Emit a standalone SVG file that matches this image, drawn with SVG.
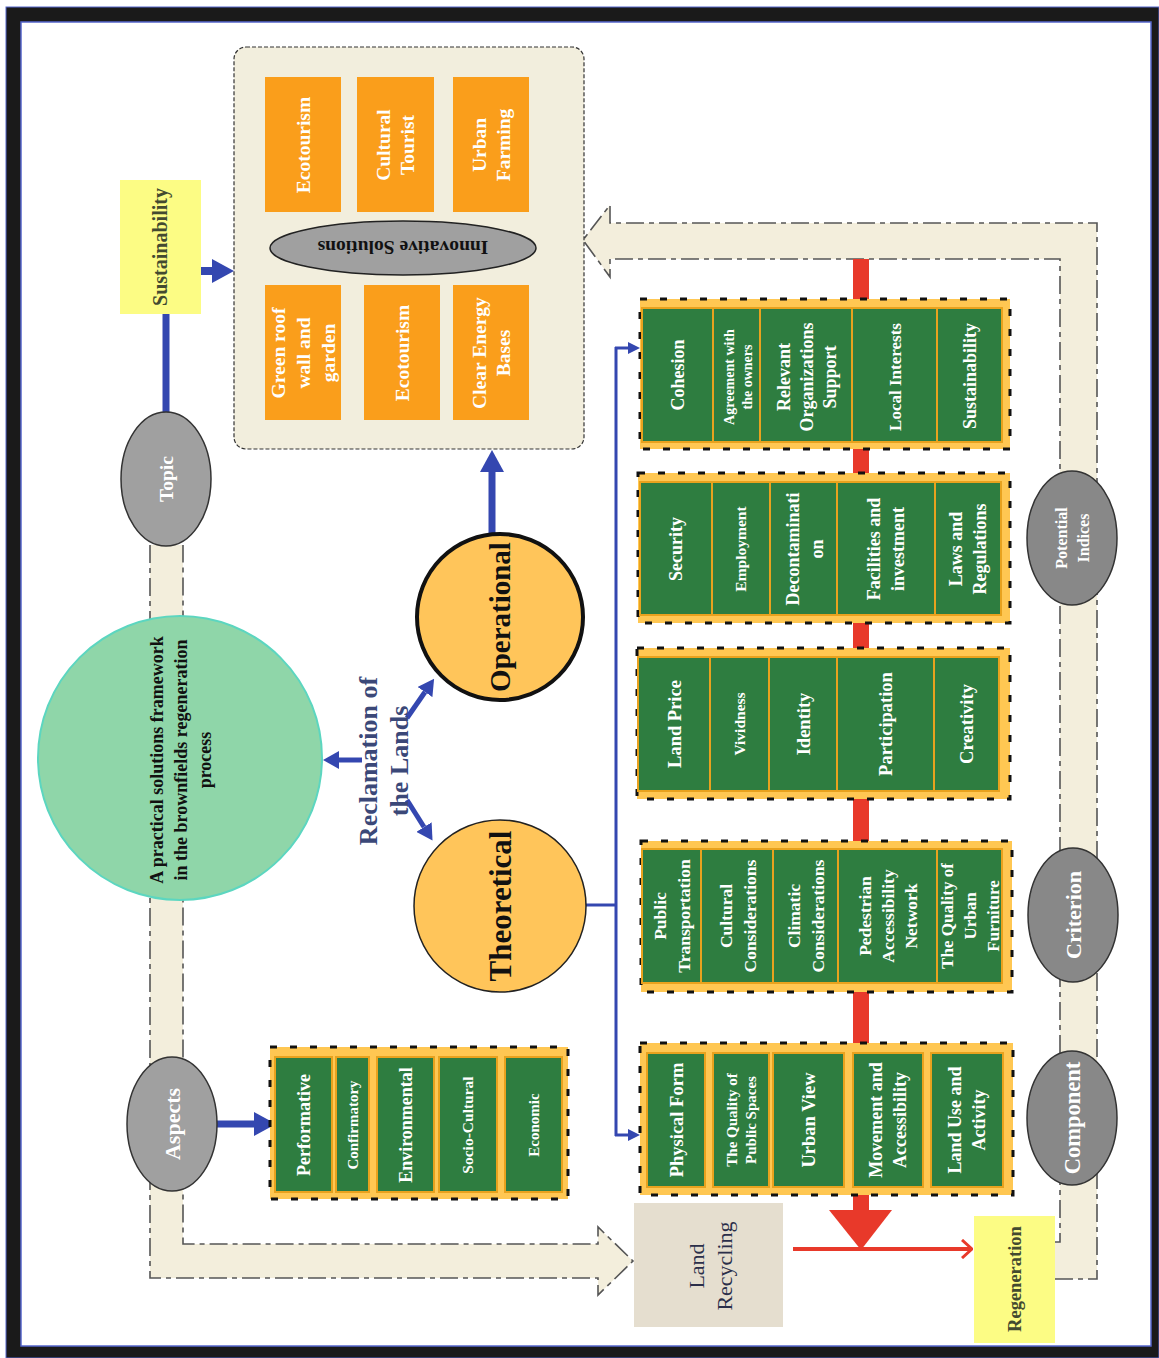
<svg xmlns="http://www.w3.org/2000/svg" width="1159" height="1358" viewBox="0 0 1159 1358">
<defs>
<style>
.f{font-family:"Liberation Serif","Times New Roman",serif;font-weight:bold;text-anchor:middle}
.w{fill:#ffffff}
.k{fill:#111111}
.row{fill:#FFC752;stroke:#111;stroke-width:3;stroke-dasharray:7 13}
.cell{fill:#2E7D40;stroke:#E8A21E;stroke-width:2}
.org{fill:#FA9E1B}
.band{fill:#F3EEDC;stroke:#555;stroke-width:1.6;stroke-dasharray:18 5 5 5}
.oval1{fill:#A0A0A0;stroke:#333;stroke-width:1.5}
.oval2{fill:#888888;stroke:#333;stroke-width:1.5}
.blue{stroke:#3447B0;fill:none}
</style>
<marker id="hB" markerUnits="userSpaceOnUse" viewBox="0 0 22 24" markerWidth="22" markerHeight="24" refX="0" refY="12" orient="auto"><path d="M0,0 L22,12 L0,24 z" fill="#3447B0"/></marker>
<marker id="hM" markerUnits="userSpaceOnUse" viewBox="0 0 16 18" markerWidth="16" markerHeight="18" refX="0" refY="9" orient="auto"><path d="M0,0 L16,9 L0,18 z" fill="#3447B0"/></marker>
<marker id="hS" markerUnits="userSpaceOnUse" viewBox="0 0 12 12" markerWidth="12" markerHeight="12" refX="0" refY="6" orient="auto"><path d="M0,0 L12,6 L0,12 z" fill="#3447B0"/></marker>
<marker id="hR" markerUnits="userSpaceOnUse" viewBox="0 0 12 20" markerWidth="12" markerHeight="20" refX="11" refY="10" orient="auto"><path d="M1,1 L11,10 L1,19" fill="none" stroke="#E8392A" stroke-width="3"/></marker>
</defs>

<!-- frame -->
<rect x="0" y="0" width="1159" height="1358" fill="#ffffff"/>
<rect x="6" y="7" width="1153" height="1351" fill="#1a1a1a" stroke="#5566cc" stroke-width="1"/>
<rect x="21" y="22" width="1130" height="1324" fill="#ffffff" stroke="#5566cc" stroke-width="1.5"/>

<!-- loop bands -->
<g id="bands">
<path class="band" d="M150,545 L150,1278 L598,1278 L598,1295 L633,1261 L598,1227 L598,1244 L183,1244 L183,545"/>
<path class="band" d="M1055,1279 L1097,1279 L1097,223 L610,223 L610,205 L583,240 L610,277 L610,259 L1060,259 L1060,1242 L1055,1242"/>
</g>

<!-- connectors -->
<g id="connectors">
<rect x="853" y="259" width="16" height="953" fill="#E8392A"/>
<polygon points="829,1210 892,1210 861,1250" fill="#E8392A"/>
<line x1="793" y1="1249" x2="972" y2="1249" stroke="#E8392A" stroke-width="4" marker-end="url(#hR)"/>
<line class="blue" x1="166" y1="314" x2="166" y2="413" stroke-width="7"/>
<line class="blue" x1="201" y1="271" x2="212" y2="271" stroke-width="8" marker-end="url(#hB)"/>
<line class="blue" x1="492" y1="535" x2="492" y2="472" stroke-width="7" marker-end="url(#hB)"/>
<line class="blue" x1="217" y1="1124" x2="254" y2="1124" stroke-width="7" marker-end="url(#hB)"/>
<line class="blue" x1="362" y1="760" x2="339" y2="760" stroke-width="5" marker-end="url(#hM)"/>
<line class="blue" x1="407" y1="718" x2="425" y2="692" stroke-width="5" marker-end="url(#hM)"/>
<line class="blue" x1="407" y1="800" x2="424" y2="827" stroke-width="5" marker-end="url(#hM)"/>
<polyline class="blue" points="586,905 616,905" stroke-width="3"/>
<line class="blue" x1="616" y1="347" x2="616" y2="1136" stroke-width="3"/>
<line class="blue" x1="615" y1="348" x2="628" y2="348" stroke-width="3" marker-end="url(#hS)"/>
<line class="blue" x1="615" y1="1135" x2="628" y2="1135" stroke-width="3" marker-end="url(#hS)"/>
</g>

<!-- top solutions box -->
<g id="solutions">
<rect x="234" y="47" width="350" height="402" rx="12" fill="#F2EEDD" stroke="#333" stroke-width="1.2" stroke-dasharray="4 2"/>
<rect class="org" x="265" y="77" width="76" height="135"/>
<rect class="org" x="357" y="77" width="77" height="135"/>
<rect class="org" x="453" y="77" width="76" height="135"/>
<rect class="org" x="265" y="285" width="76" height="135"/>
<rect class="org" x="364" y="285" width="76" height="135"/>
<rect class="org" x="453" y="285" width="76" height="135"/>
<text class="f w" font-size="19.5" transform="translate(303 145) rotate(-90)"><tspan x="0" dy="6.8">Ecotourism</tspan></text>
<text class="f w" font-size="19.5" transform="translate(395.5 145) rotate(-90)"><tspan x="0" dy="-5.2">Cultural</tspan><tspan x="0" dy="24">Tourist</tspan></text>
<text class="f w" font-size="19.5" transform="translate(491 145) rotate(-90)"><tspan x="0" dy="-5.2">Urban</tspan><tspan x="0" dy="24">Farming</tspan></text>
<text class="f w" font-size="19.5" transform="translate(303 353) rotate(-90)"><tspan x="0" dy="-18.2">Green roof</tspan><tspan x="0" dy="25">wall and</tspan><tspan x="0" dy="25">garden</tspan></text>
<text class="f w" font-size="19.5" transform="translate(402 353) rotate(-90)"><tspan x="0" dy="6.8">Ecotourism</tspan></text>
<text class="f w" font-size="19.5" transform="translate(491 353) rotate(-90)"><tspan x="0" dy="-5.2">Clear Energy</tspan><tspan x="0" dy="24">Bases</tspan></text>
</g>
<g id="innovative">
<ellipse cx="403" cy="248" rx="133" ry="27" fill="#A0A0A0" stroke="#222" stroke-width="1.5"/>
<text class="f k" font-size="19.5" transform="translate(403 248) rotate(180)"><tspan x="0" dy="6.8">Innovative Solutions</tspan></text>
</g>

<!-- left side nodes -->
<g id="sustainability">
<rect x="120" y="180" width="81" height="134" fill="#FCFC84"/>
<text class="f" fill="#434a30" font-size="20" transform="translate(160 247) rotate(-90)"><tspan x="0" dy="7">Sustainability</tspan></text>
</g>
<g id="topic">
<ellipse cx="166" cy="479" rx="45" ry="67" class="oval1"/>
<text class="f w" font-size="19.5" transform="translate(166 479) rotate(-90)"><tspan x="0" dy="6.8">Topic</tspan></text>
</g>
<g id="framework">
<ellipse cx="180" cy="758" rx="142" ry="142" fill="#8FD6A9" stroke="#5CD6C0" stroke-width="2"/>
<text class="f k" font-size="18" transform="translate(181 760) rotate(-90)"><tspan x="0" dy="-17.7">A practical solutions framework</tspan><tspan x="0" dy="24">in the brownfields regeneration</tspan><tspan x="0" dy="24">process</tspan></text>
</g>
<g id="reclamation">
<text class="f" fill="#3B4878" font-size="26" transform="translate(383 761) rotate(-90)"><tspan x="0" dy="-6.4">Reclamation of</tspan><tspan x="0" dy="31">the Lands</tspan></text>
</g>
<g id="operational">
<circle cx="500" cy="617" r="83" fill="#FFC55A" stroke="#111" stroke-width="4"/>
<text class="f k" font-size="29" transform="translate(500 617) rotate(-90)"><tspan x="0" dy="10">Operational</tspan></text>
</g>
<g id="theoretical">
<circle cx="500" cy="906" r="86" fill="#FFC55A" stroke="#222" stroke-width="1.5"/>
<text class="f k" font-size="31" transform="translate(500 906) rotate(-90)"><tspan x="0" dy="10.8">Theoretical</tspan></text>
</g>
<g id="aspects">
<ellipse cx="172" cy="1124" rx="45" ry="67" class="oval1"/>
<text class="f w" font-size="22" transform="translate(172 1124) rotate(-90)"><tspan x="0" dy="7.7">Aspects</tspan></text>
</g>

<!-- aspects row -->
<g id="aspects-row">
<rect class="row" x="270" y="1047" width="298" height="152"/>
<rect class="cell" x="275" y="1057" width="57" height="135"/>
<rect class="cell" x="336" y="1057" width="33" height="135"/>
<rect class="cell" x="377" y="1057" width="57" height="135"/>
<rect class="cell" x="439" y="1057" width="58" height="135"/>
<rect class="cell" x="505" y="1057" width="57" height="135"/>
<text class="f w" font-size="18" transform="translate(303.5 1125) rotate(-90)"><tspan x="0" dy="6.3">Performative</tspan></text>
<text class="f w" font-size="15" transform="translate(352.5 1125) rotate(-90)"><tspan x="0" dy="5.2">Confirmatory</tspan></text>
<text class="f w" font-size="18" transform="translate(405.5 1125) rotate(-90)"><tspan x="0" dy="6.3">Environmental</tspan></text>
<text class="f w" font-size="15.5" transform="translate(468 1125) rotate(-90)"><tspan x="0" dy="5.4">Socio-Cultural</tspan></text>
<text class="f w" font-size="15" transform="translate(533.5 1125) rotate(-90)"><tspan x="0" dy="5.2">Economic</tspan></text>
</g>

<!-- row 1: potential indices -->
<g id="row-indices">
<rect class="row" x="640" y="299" width="370" height="150"/>
<rect class="cell" x="642" y="308" width="71" height="134"/>
<rect class="cell" x="713" y="308" width="47" height="134"/>
<rect class="cell" x="760" y="308" width="92" height="134"/>
<rect class="cell" x="852" y="308" width="85" height="134"/>
<rect class="cell" x="937" y="308" width="65" height="134"/>
<text class="f w" font-size="18" transform="translate(677.5 375) rotate(-90)"><tspan x="0" dy="6.3">Cohesion</tspan></text>
<text class="f w" font-size="14" transform="translate(738 377) rotate(-90)"><tspan x="0" dy="-4">Agreement with</tspan><tspan x="0" dy="18">the owners</tspan></text>
<text class="f w" font-size="18" transform="translate(807 377) rotate(-90)"><tspan x="0" dy="-16.7">Relevant</tspan><tspan x="0" dy="23">Organizations</tspan><tspan x="0" dy="23">Support</tspan></text>
<text class="f w" font-size="17" transform="translate(894.5 377) rotate(-90)"><tspan x="0" dy="6">Local Interests</tspan></text>
<text class="f w" font-size="18" transform="translate(969.5 376) rotate(-90)"><tspan x="0" dy="6.3">Sustainability</tspan></text>
</g>

<!-- row 2 -->
<g id="row-2">
<rect class="row" x="638" y="473" width="372" height="150"/>
<rect class="cell" x="640" y="482" width="72" height="133"/>
<rect class="cell" x="712" y="482" width="58" height="133"/>
<rect class="cell" x="770" y="482" width="67" height="133"/>
<rect class="cell" x="837" y="482" width="98" height="133"/>
<rect class="cell" x="935" y="482" width="66" height="133"/>
<text class="f w" font-size="18" transform="translate(676 549) rotate(-90)"><tspan x="0" dy="6.3">Security</tspan></text>
<text class="f w" font-size="15.5" transform="translate(741 549) rotate(-90)"><tspan x="0" dy="5.4">Employment</tspan></text>
<text class="f w" font-size="18" transform="translate(805 549) rotate(-90)"><tspan x="0" dy="-5.7">Decontaminati</tspan><tspan x="0" dy="24">on</tspan></text>
<text class="f w" font-size="18" transform="translate(886 549) rotate(-90)"><tspan x="0" dy="-5.7">Facilities and</tspan><tspan x="0" dy="24">investment</tspan></text>
<text class="f w" font-size="18" transform="translate(968 549) rotate(-90)"><tspan x="0" dy="-5.7">Laws and</tspan><tspan x="0" dy="24">Regulations</tspan></text>
</g>

<!-- row 3 -->
<g id="row-3">
<rect class="row" x="637" y="648" width="373" height="151"/>
<rect class="cell" x="638" y="657" width="72" height="134"/>
<rect class="cell" x="710" y="657" width="59" height="134"/>
<rect class="cell" x="769" y="657" width="68" height="134"/>
<rect class="cell" x="837" y="657" width="97" height="134"/>
<rect class="cell" x="934" y="657" width="65" height="134"/>
<text class="f w" font-size="18.5" transform="translate(674 724) rotate(-90)"><tspan x="0" dy="6.5">Land Price</tspan></text>
<text class="f w" font-size="15.5" transform="translate(739.5 724) rotate(-90)"><tspan x="0" dy="5.4">Vividness</tspan></text>
<text class="f w" font-size="18.5" transform="translate(803 724) rotate(-90)"><tspan x="0" dy="6.5">Identity</tspan></text>
<text class="f w" font-size="18.5" transform="translate(885.5 724) rotate(-90)"><tspan x="0" dy="6.5">Participation</tspan></text>
<text class="f w" font-size="18.5" transform="translate(966.5 724) rotate(-90)"><tspan x="0" dy="6.5">Creativity</tspan></text>
</g>

<!-- row 4: criterion -->
<g id="row-criterion">
<rect class="row" x="641" y="841" width="371" height="151"/>
<rect class="cell" x="642" y="849" width="59" height="134"/>
<rect class="cell" x="701" y="849" width="72" height="134"/>
<rect class="cell" x="773" y="849" width="65" height="134"/>
<rect class="cell" x="838" y="849" width="99" height="134"/>
<rect class="cell" x="937" y="849" width="65" height="134"/>
<text class="f w" font-size="17.5" transform="translate(672 916) rotate(-90)"><tspan x="0" dy="-5.9">Public</tspan><tspan x="0" dy="24">Transportation</tspan></text>
<text class="f w" font-size="17.5" transform="translate(738 916) rotate(-90)"><tspan x="0" dy="-5.9">Cultural</tspan><tspan x="0" dy="24">Considerations</tspan></text>
<text class="f w" font-size="17.5" transform="translate(806 916) rotate(-90)"><tspan x="0" dy="-5.9">Climatic</tspan><tspan x="0" dy="24">Considerations</tspan></text>
<text class="f w" font-size="17.5" transform="translate(888 916) rotate(-90)"><tspan x="0" dy="-16.9">Pedestrian</tspan><tspan x="0" dy="23">Accessibility</tspan><tspan x="0" dy="23">Network</tspan></text>
<text class="f w" font-size="17" transform="translate(969.5 916) rotate(-90)"><tspan x="0" dy="-17">The Quality of</tspan><tspan x="0" dy="23">Urban</tspan><tspan x="0" dy="23">Furniture</tspan></text>
</g>

<!-- row 5: component -->
<g id="row-component">
<rect class="row" x="640" y="1043" width="373" height="152"/>
<rect class="cell" x="647" y="1053" width="58" height="134"/>
<rect class="cell" x="713" y="1053" width="56" height="134"/>
<rect class="cell" x="773" y="1053" width="71" height="134"/>
<rect class="cell" x="853" y="1053" width="70" height="134"/>
<rect class="cell" x="931" y="1053" width="72" height="134"/>
<text class="f w" font-size="18.5" transform="translate(676 1120) rotate(-90)"><tspan x="0" dy="6.5">Physical Form</tspan></text>
<text class="f w" font-size="15" transform="translate(741 1120) rotate(-90)"><tspan x="0" dy="-4.3">The Quality of</tspan><tspan x="0" dy="19">Public Spaces</tspan></text>
<text class="f w" font-size="18.5" transform="translate(808.5 1120) rotate(-90)"><tspan x="0" dy="6.5">Urban View</tspan></text>
<text class="f w" font-size="18" transform="translate(888 1120) rotate(-90)"><tspan x="0" dy="-5.7">Movement and</tspan><tspan x="0" dy="24">Accessibility</tspan></text>
<text class="f w" font-size="18" transform="translate(967 1120) rotate(-90)"><tspan x="0" dy="-5.7">Land Use and</tspan><tspan x="0" dy="24">Activity</tspan></text>
</g>

<!-- right side ovals -->
<g id="potential-indices">
<ellipse cx="1072" cy="538" rx="45" ry="67" class="oval2"/>
<text class="f w" font-size="16" transform="translate(1072 538) rotate(-90)"><tspan x="0" dy="-5.4">Potential</tspan><tspan x="0" dy="22">Indices</tspan></text>
</g>
<g id="criterion">
<ellipse cx="1073" cy="915" rx="45" ry="67" class="oval2"/>
<text class="f w" font-size="22" transform="translate(1073 915) rotate(-90)"><tspan x="0" dy="7.7">Criterion</tspan></text>
</g>
<g id="component">
<ellipse cx="1072" cy="1118" rx="45" ry="67" class="oval2"/>
<text class="f w" font-size="22.5" transform="translate(1072 1118) rotate(-90)"><tspan x="0" dy="7.9">Component</tspan></text>
</g>

<!-- bottom nodes -->
<g id="land-recycling">
<rect x="634" y="1203" width="149" height="124" fill="#E5DECF"/>
<text font-family="'Liberation Serif','Times New Roman',serif" text-anchor="middle" fill="#2B2F4A" font-size="22" transform="translate(710 1266) rotate(-90)"><tspan x="0" dy="-6.3">Land</tspan><tspan x="0" dy="28">Recycling</tspan></text>
</g>
<g id="regeneration">
<rect x="974" y="1216" width="81" height="127" fill="#FCFC84"/>
<text class="f" fill="#434a30" font-size="18.5" transform="translate(1014 1279) rotate(-90)"><tspan x="0" dy="6.5">Regeneration</tspan></text>
</g>
</svg>
